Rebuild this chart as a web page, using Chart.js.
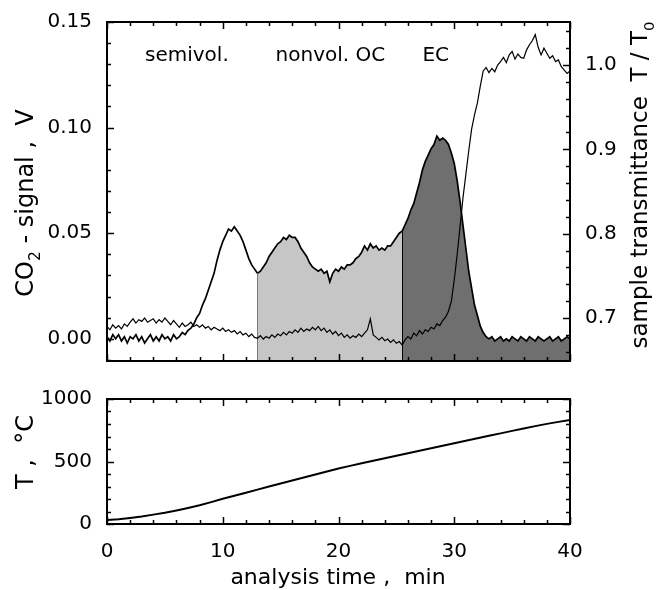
<!DOCTYPE html>
<html>
<head>
<meta charset="utf-8">
<script src="https://cdn.jsdelivr.net/npm/chart.js@4.4.1/dist/chart.umd.min.js"></script>
<style>
  html, body { margin: 0; padding: 0; background: #fff; }
  #top { position: absolute; left: 0; top: 0; }
  #bottom { position: absolute; left: 0; top: 380px; }
</style>
</head>
<body>
<canvas id="top" width="665" height="380"></canvas>
<canvas id="bottom" width="665" height="210"></canvas>
<script>
// analysis time, min (sampling grid of the CO2 and transmittance traces)
const time = [
  0, 0.25, 0.5, 0.75, 1, 1.25, 1.5, 1.75,
  2, 2.25, 2.5, 2.75, 3, 3.25, 3.5, 3.75,
  4, 4.25, 4.5, 4.75, 5, 5.25, 5.5, 5.75,
  6, 6.25, 6.5, 6.75, 7, 7.25, 7.5, 7.75,
  8, 8.25, 8.5, 8.75, 9, 9.25, 9.5, 9.75,
  10, 10.25, 10.5, 10.75, 11, 11.25, 11.5, 11.75,
  12, 12.25, 12.5, 12.75, 13, 13.25, 13.5, 13.75,
  14, 14.25, 14.5, 14.75, 15, 15.25, 15.5, 15.75,
  16, 16.25, 16.5, 16.75, 17, 17.25, 17.5, 17.75,
  18, 18.25, 18.5, 18.75, 19, 19.25, 19.5, 19.75,
  20, 20.25, 20.5, 20.75, 21, 21.25, 21.5, 21.75,
  22, 22.25, 22.5, 22.75, 23, 23.25, 23.5, 23.75,
  24, 24.25, 24.5, 24.75, 25, 25.25, 25.5, 25.75,
  26, 26.25, 26.5, 26.75, 27, 27.25, 27.5, 27.75,
  28, 28.25, 28.5, 28.75, 29, 29.25, 29.5, 29.75,
  30, 30.25, 30.5, 30.75, 31, 31.25, 31.5, 31.75,
  32, 32.25, 32.5, 32.75, 33, 33.25, 33.5, 33.75,
  34, 34.25, 34.5, 34.75, 35, 35.25, 35.5, 35.75,
  36, 36.25, 36.5, 36.75, 37, 37.25, 37.5, 37.75,
  38, 38.25, 38.5, 38.75, 39, 39.25, 39.5, 39.75,
  40
];

// CO2 signal, V
const co2 = [
  0.001, -0.001, 0.002, 0.000, 0.002, -0.001, 0.001, -0.002,
  0.001, 0.000, 0.002, -0.001, 0.001, -0.002, 0.000, 0.002,
  -0.001, 0.001, -0.001, 0.002, 0.000, 0.001, -0.001, 0.002,
  0.000, 0.001, 0.003, 0.002, 0.004, 0.005, 0.007, 0.010,
  0.012, 0.016, 0.019, 0.023, 0.027, 0.031, 0.037, 0.042,
  0.046, 0.049, 0.052, 0.051, 0.053, 0.051, 0.049, 0.046,
  0.042, 0.038, 0.035, 0.033, 0.031, 0.032, 0.034, 0.036,
  0.039, 0.041, 0.043, 0.045, 0.046, 0.048, 0.047, 0.049,
  0.048, 0.048, 0.046, 0.043, 0.041, 0.039, 0.036, 0.034,
  0.033, 0.032, 0.033, 0.031, 0.032, 0.027, 0.031, 0.033,
  0.032, 0.034, 0.033, 0.035, 0.035, 0.036, 0.038, 0.039,
  0.041, 0.044, 0.042, 0.045, 0.043, 0.044, 0.042, 0.043,
  0.042, 0.044, 0.044, 0.046, 0.048, 0.050, 0.051, 0.054,
  0.057, 0.061, 0.064, 0.069, 0.074, 0.080, 0.084, 0.087,
  0.090, 0.092, 0.096, 0.094, 0.095, 0.094, 0.092, 0.088,
  0.083, 0.075, 0.065, 0.054, 0.043, 0.032, 0.024, 0.016,
  0.011, 0.006, 0.003, 0.001, 0.000, 0.001, -0.001, 0.000,
  0.001, -0.001, 0.000, -0.001, 0.001, 0.000, -0.001, 0.001,
  0.000, -0.001, 0.001, 0.000, -0.001, 0.001, 0.000, -0.001,
  0.000, 0.001, -0.001, 0.000, 0.001, -0.001, 0.000, 0.001,
  0.000
];

// sample transmittance T / T0
const transmittance = [
  0.690, 0.686, 0.692, 0.688, 0.691, 0.687, 0.693, 0.690,
  0.695, 0.699, 0.694, 0.698, 0.696, 0.700, 0.695, 0.697,
  0.699, 0.694, 0.698, 0.695, 0.700, 0.696, 0.692, 0.697,
  0.693, 0.689, 0.694, 0.690, 0.692, 0.695, 0.690, 0.692,
  0.689, 0.692, 0.688, 0.690, 0.686, 0.689, 0.687, 0.685,
  0.688, 0.684, 0.686, 0.683, 0.685, 0.681, 0.684, 0.680,
  0.682, 0.678, 0.681, 0.677, 0.676, 0.679, 0.675, 0.678,
  0.676, 0.680, 0.677, 0.681, 0.679, 0.683, 0.680, 0.684,
  0.682, 0.686, 0.683, 0.688, 0.684, 0.687, 0.685, 0.689,
  0.686, 0.690, 0.685, 0.688, 0.683, 0.686, 0.681, 0.684,
  0.679, 0.682, 0.677, 0.680, 0.676, 0.679, 0.677, 0.681,
  0.678, 0.682, 0.686, 0.699, 0.680, 0.677, 0.674, 0.677,
  0.673, 0.675, 0.671, 0.674, 0.670, 0.672, 0.668, 0.674,
  0.678, 0.675, 0.682, 0.679, 0.685, 0.681, 0.686, 0.684,
  0.689, 0.687, 0.693, 0.691, 0.697, 0.701, 0.708, 0.720,
  0.745, 0.775, 0.808, 0.842, 0.870, 0.898, 0.924, 0.941,
  0.955, 0.975, 0.993, 0.997, 0.991, 0.996, 0.992, 1.000,
  1.004, 1.009, 1.003, 1.012, 1.016, 1.007, 1.013, 1.009,
  1.008, 1.018, 1.024, 1.029, 1.036, 1.021, 1.012, 1.020,
  1.014, 1.008, 1.011, 1.004, 1.006, 0.998, 0.994, 0.990,
  0.993
];

// oven temperature, °C
const tempTime = [
  0, 1, 2, 3, 4, 5, 6, 7, 8, 9, 10, 11, 12, 13, 14, 15, 16, 17, 18, 19, 20,
  21, 22, 23, 24, 25, 26, 27, 28, 29, 30, 31, 32, 33, 34, 35, 36, 37, 38, 39, 40
];
const temperature = [
  32, 38, 48, 60, 75, 90, 108, 128, 150, 175, 202, 226, 250, 275, 300, 324, 348, 372, 396, 420, 444,
  465, 486, 506, 526, 546, 566, 586, 606, 626, 646, 666, 686, 706, 725, 745, 764, 783, 801, 817, 832
];

const phaseLabels = ["semivol.", "nonvol. OC", "EC"];
const ocStart = 13;    // min, start of nonvolatile OC
const ecStart = 25.5;  // min, start of EC

const FONT = "DejaVu Sans";
const LIGHT = "#c6c6c6";
const DARK = "#6f6f6f";

Chart.defaults.font.family = FONT;
Chart.defaults.color = "#000";

function toPoints(xs, ys) {
  return xs.map((x, i) => ({ x: x, y: ys[i] }));
}

// inward ticks on the box around the plot area
function drawTicks(ctx, scale, area, step, major, sides) {
  const lo = Math.ceil(scale.min / step - 1e-6);
  const hi = Math.floor(scale.max / step + 1e-6);
  for (let k = lo; k <= hi; k++) {
    const v = k * step;
    const len = Math.abs(v / major - Math.round(v / major)) < 1e-6 ? 7 : 4;
    const p = Math.round(scale.getPixelForValue(v)) + 0.5;
    ctx.beginPath();
    if (sides.includes("top")) { ctx.moveTo(p, area.top); ctx.lineTo(p, area.top + len); }
    if (sides.includes("bottom")) { ctx.moveTo(p, area.bottom); ctx.lineTo(p, area.bottom - len); }
    if (sides.includes("left")) { ctx.moveTo(area.left, p); ctx.lineTo(area.left + len, p); }
    if (sides.includes("right")) { ctx.moveTo(area.right, p); ctx.lineTo(area.right - len, p); }
    ctx.stroke();
  }
}

// text drawn rotated (reading upwards), with optional subscripts
function drawRotated(ctx, parts, x, yCenter, size) {
  ctx.save();
  ctx.translate(x, yCenter);
  ctx.rotate(-Math.PI / 2);
  ctx.textBaseline = "alphabetic";
  ctx.textAlign = "left";
  ctx.fillStyle = "#000";
  let w = 0;
  for (const p of parts) {
    ctx.font = (p.sub ? size * 0.65 : size) + "px '" + FONT + "'";
    w += ctx.measureText(p.t).width;
  }
  let cx = -w / 2;
  for (const p of parts) {
    ctx.font = (p.sub ? size * 0.65 : size) + "px '" + FONT + "'";
    ctx.fillText(p.t, cx, p.sub ? size * 0.3 : 0);
    cx += ctx.measureText(p.t).width;
  }
  ctx.restore();
}

const framePlugin = {
  id: "frame",
  afterDraw(chart, args, opts) {
    const { ctx, chartArea: a } = chart;
    ctx.save();
    ctx.strokeStyle = "#000";
    ctx.lineWidth = 1.5;
    for (const t of opts.ticks) {
      drawTicks(ctx, chart.scales[t.axis], a, t.step, t.major, t.sides);
    }
    ctx.lineWidth = 2;
    ctx.strokeRect(a.left, a.top, a.width, a.height);
    ctx.restore();
    if (opts.texts) opts.texts(chart, ctx);
  }
};

// vertical edges of the shaded OC and EC areas
const bandEdges = {
  id: "bandEdges",
  afterDatasetDraw(chart, args) {
    if (args.index !== 1) return;
    const { ctx, chartArea: a } = chart;
    const meta = args.meta;
    ctx.save();
    ctx.lineWidth = 1;
    [[ocStart, "#777"], [ecStart, "#000"]].forEach(([t, col]) => {
      const i = time.indexOf(t);
      const el = meta.data[i];
      ctx.strokeStyle = col;
      ctx.beginPath();
      ctx.moveTo(Math.round(el.x) + 0.5, a.bottom);
      ctx.lineTo(Math.round(el.x) + 0.5, el.y);
      ctx.stroke();
    });
    ctx.restore();
  }
};

new Chart(document.getElementById("top"), {
  type: "line",
  data: {
    datasets: [
      {
        label: "T / T0",
        data: toPoints(time, transmittance),
        yAxisID: "y2",
        borderColor: "#000",
        borderWidth: 1.2,
        pointRadius: 0,
        fill: false,
      },
      {
        label: "CO2",
        data: toPoints(time, co2),
        yAxisID: "y",
        borderColor: "#000",
        borderWidth: 1.7,
        pointRadius: 0,
        fill: "start",
        backgroundColor: "rgba(0,0,0,0)",
        segment: {
          backgroundColor: (c) =>
            c.p0.parsed.x >= ecStart ? DARK : c.p0.parsed.x >= ocStart ? LIGHT : "rgba(0,0,0,0)",
        },
      },
    ],
  },
  options: {
    responsive: false,
    animation: false,
    events: [],
    layout: { padding: { top: 22, bottom: 2, left: 0, right: 0 } },
    scales: {
      x: { type: "linear", min: 0, max: 40, display: false },
      y: {
        position: "left",
        min: -0.0105,
        max: 0.15,
        grid: { display: false },
        border: { display: false },
        ticks: {
          stepSize: 0.05,
          includeBounds: false,
          padding: 7,
          font: { size: 20 },
          callback: (v) => v.toFixed(2),
        },
        afterFit: (s) => { s.width = 107; },
      },
      y2: {
        position: "right",
        min: 0.649,
        max: 1.051,
        grid: { display: false },
        border: { display: false },
        ticks: {
          stepSize: 0.1,
          includeBounds: false,
          padding: 7,
          font: { size: 20 },
          callback: (v) => v.toFixed(1),
        },
        afterFit: (s) => { s.width = 95; },
      },
    },
    plugins: {
      legend: { display: false },
      tooltip: { enabled: false },
      frame: {
        ticks: [
          { axis: "x", step: 2, major: 10, sides: ["top", "bottom"] },
          { axis: "y", step: 0.01, major: 0.05, sides: ["left"] },
          { axis: "y2", step: 0.02, major: 0.1, sides: ["right"] },
        ],
        texts: (chart, ctx) => {
          const x = chart.scales.x, y = chart.scales.y;
          ctx.save();
          ctx.fillStyle = "#000";
          ctx.font = "20px '" + FONT + "'";
          ctx.textAlign = "center";
          ctx.textBaseline = "middle";
          const at = [6.9, 19.3, 28.4];
          phaseLabels.forEach((s, i) => {
            ctx.fillText(s, x.getPixelForValue(at[i]), y.getPixelForValue(0.134));
          });
          ctx.restore();
          drawRotated(ctx, [{ t: "CO" }, { t: "2", sub: true }, { t: " - signal ,  V" }], 33, 203, 24);
          drawRotated(ctx, [{ t: "sample transmittance  T / T" }, { t: "0", sub: true }], 647, 185, 23);
        },
      },
    },
  },
  plugins: [framePlugin, bandEdges],
});

new Chart(document.getElementById("bottom"), {
  type: "line",
  data: {
    datasets: [
      {
        label: "T",
        data: toPoints(tempTime, temperature),
        borderColor: "#000",
        borderWidth: 2,
        pointRadius: 0,
        fill: false,
      },
    ],
  },
  options: {
    responsive: false,
    animation: false,
    events: [],
    layout: { padding: { top: 8, bottom: 0, left: 0, right: 95 } },
    scales: {
      x: {
        type: "linear",
        min: 0,
        max: 40,
        grid: { display: false },
        border: { display: false },
        ticks: { stepSize: 10, padding: 8, maxRotation: 0, font: { size: 20 } },
        afterFit: (s) => { s.height = 66; },
      },
      y: {
        min: 0,
        max: 1000,
        grid: { display: false },
        border: { display: false },
        ticks: { stepSize: 500, padding: 7, font: { size: 20 }, callback: (v) => String(v) },
        afterFit: (s) => { s.width = 107; },
      },
    },
    plugins: {
      legend: { display: false },
      tooltip: { enabled: false },
      frame: {
        ticks: [
          { axis: "x", step: 2, major: 10, sides: ["top", "bottom"] },
          { axis: "y", step: 100, major: 500, sides: ["left", "right"] },
        ],
        texts: (chart, ctx) => {
          drawRotated(ctx, [{ t: "T ,  °C" }], 33, 72, 24);
          ctx.save();
          ctx.fillStyle = "#000";
          ctx.font = "22px '" + FONT + "'";
          ctx.textAlign = "center";
          ctx.textBaseline = "alphabetic";
          ctx.fillText("analysis time ,  min", 338, 204);
          ctx.restore();
        },
      },
    },
  },
  plugins: [framePlugin],
});
</script>
</body>
</html>
